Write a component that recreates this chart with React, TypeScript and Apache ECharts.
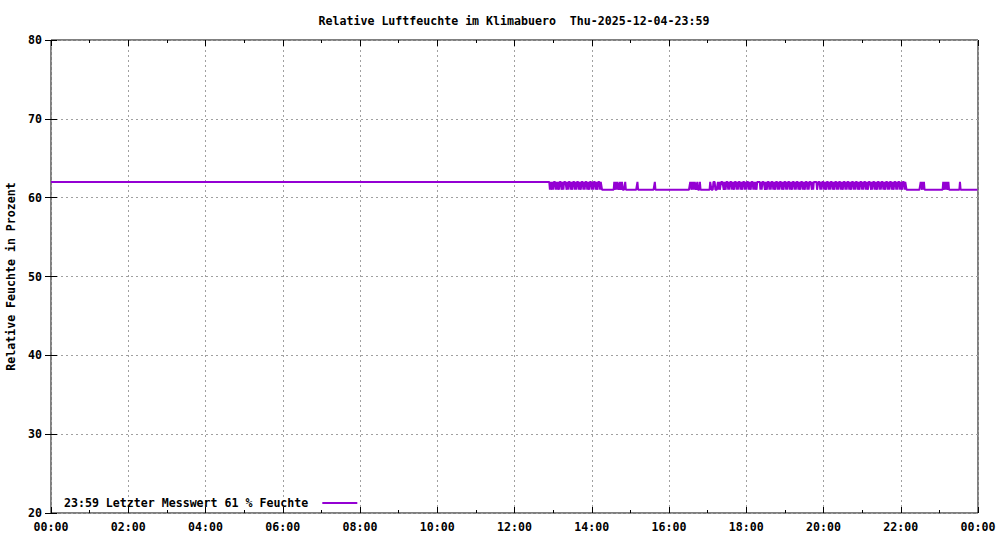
import * as echarts from "echarts"
import { useEffect, useRef } from "react"

const TITLE = "Relative Luftfeuchte im Klimabuero  Thu-2025-12-04-23:59"
const Y_NAME = "Relative Feuchte in Prozent"
const SERIES_NAME = "23:59 Letzter Messwert 61 % Feuchte"

const LAST_MINUTE = 1439
const LOW_VALUE = 61
const HIGH_VALUE = 62

// stretches (start minute, length in minutes) where the reading was 62 %
const HIGH_RUNS: [number, number][] = [
  [0, 772],
  // 12:52 - 14:17, dense toggling
  [772, 3], [776, 2], [779, 1], [781, 3], [785, 1], [787, 2], [790, 3], [795, 1], [797, 4], [802, 1],
  [804, 3], [808, 2], [811, 3], [815, 1], [817, 3], [821, 2], [824, 3], [828, 1], [830, 3], [834, 2],
  [837, 3], [841, 1], [843, 3], [847, 2], [850, 3], [854, 2],
  // 14:35 - 15:41, isolated blips
  [875, 2], [878, 1], [880, 2], [884, 1], [887, 1], [892, 1], [911, 1], [938, 1],
  // 16:33 - 17:22
  [993, 2], [996, 1], [998, 1], [1000, 2], [1004, 1], [1008, 1], [1024, 2], [1029, 3], [1036, 1], [1038, 1],
  [1041, 1],
  // 17:22 - 22:10, dense toggling
  [1042, 3], [1046, 2], [1049, 3], [1053, 1], [1055, 3], [1059, 2], [1062, 3], [1066, 1], [1068, 3], [1072, 2],
  [1075, 3], [1079, 1], [1081, 3], [1085, 2], [1088, 3], [1092, 1], [1094, 2], [1097, 5], [1103, 1], [1105, 4],
  [1110, 2], [1113, 3], [1117, 1], [1119, 3], [1123, 2], [1126, 3], [1130, 1], [1132, 3], [1136, 2], [1139, 3],
  [1143, 1], [1145, 3], [1149, 2], [1152, 3], [1156, 1], [1158, 3], [1162, 2], [1165, 3], [1169, 2], [1172, 3],
  [1176, 1], [1178, 4], [1183, 1], [1185, 5], [1192, 3], [1196, 1], [1198, 3], [1202, 2], [1205, 3], [1209, 1],
  [1211, 3], [1215, 2], [1218, 3], [1222, 1], [1224, 3], [1228, 2], [1231, 3], [1235, 1], [1237, 3], [1241, 2],
  [1244, 3], [1248, 1], [1250, 3], [1254, 2], [1257, 3], [1261, 1], [1263, 3], [1267, 2], [1270, 4], [1275, 1],
  [1277, 3], [1281, 2], [1284, 3], [1288, 1], [1290, 3], [1294, 2], [1297, 3], [1301, 1], [1303, 3], [1307, 2],
  [1310, 3], [1314, 1], [1316, 3], [1320, 2], [1323, 3], [1327, 2],
  // late blips
  [1351, 2], [1354, 1], [1356, 1], [1386, 2], [1389, 1], [1391, 2], [1394, 1], [1412, 1],
]

const FONT = "DejaVu Sans Mono"
const VIOLET = "#9400d3"

const fmtTime = (m: number) => {
  const h = Math.floor(m / 60) % 24
  return `${String(h).padStart(2, "0")}:${String(m % 60).padStart(2, "0")}`
}

export default function App() {
  const ref = useRef<HTMLDivElement>(null)

  useEffect(() => {
    if (!ref.current) return
    const chart = echarts.init(ref.current, null, { renderer: "svg" })

    const high = new Set<number>()
    for (const [s, len] of HIGH_RUNS) for (let m = s; m < s + len; m++) high.add(m)
    const data: [number, number][] = []
    for (let m = 0; m <= LAST_MINUTE; m++) data.push([m, high.has(m) ? HIGH_VALUE : LOW_VALUE])

    const text = { fontFamily: FONT, fontWeight: "bold" as const, fontSize: 11.6, color: "#000" }
    const grid = { lineStyle: { color: "#a0a0a0", width: 1, type: [2, 3] } }

    chart.setOption({
      animation: false,
      backgroundColor: "#fff",
      title: {
        text: TITLE,
        left: 509,
        top: 10,
        textAlign: "center",
        textStyle: { ...text },
      },
      grid: {
        left: 51,
        top: 40,
        width: 927,
        height: 473,
        containLabel: false,
        outerBoundsMode: "none",
        show: true,
        borderColor: "#000",
        borderWidth: 1,
        backgroundColor: "transparent",
      },
      legend: {
        left: 59,
        top: 492,
        align: "right",
        itemWidth: 35,
        itemHeight: 2,
        icon: "rect",
        textStyle: { ...text, padding: [0, 9, 0, 0] },
        data: [SERIES_NAME],
      },
      xAxis: [
        {
          type: "value",
          min: 0,
          max: 1440,
          interval: 120,
          axisLine: { show: false },
          axisTick: { show: true, inside: true, length: 6, lineStyle: { color: "#000" } },
          minorTick: { show: true, splitNumber: 2, length: 3, lineStyle: { color: "#000" } },
          axisLabel: { ...text, margin: 8, formatter: (v: number) => fmtTime(v) },
          splitLine: { show: true, ...grid },
        },
        {
          type: "value",
          position: "top",
          min: 0,
          max: 1440,
          interval: 120,
          axisLine: { show: false },
          axisTick: { show: true, inside: true, length: 6, lineStyle: { color: "#000" } },
          minorTick: { show: true, splitNumber: 2, length: 3, lineStyle: { color: "#000" } },
          axisLabel: { show: false },
          splitLine: { show: false },
        },
      ],
      yAxis: [
        {
          type: "value",
          min: 20,
          max: 80,
          interval: 10,
          name: Y_NAME,
          nameLocation: "middle",
          nameGap: 32,
          nameRotate: 90,
          nameTextStyle: { ...text },
          axisLine: { show: false },
          axisTick: { show: true, inside: true, length: 6, lineStyle: { color: "#000" } },
          axisLabel: { ...text, margin: 9 },
          splitLine: { show: true, ...grid },
        },
        {
          type: "value",
          position: "right",
          min: 20,
          max: 80,
          interval: 10,
          axisLine: { show: false },
          axisTick: { show: true, inside: true, length: 6, lineStyle: { color: "#000" } },
          axisLabel: { show: false },
          splitLine: { show: false },
        },
      ],
      series: [
        {
          name: SERIES_NAME,
          type: "line",
          data,
          symbol: "none",
          lineStyle: { color: VIOLET, width: 2 },
          itemStyle: { color: VIOLET },
        },
      ],
    })

    return () => chart.dispose()
  }, [])

  return <div ref={ref} style={{ position: "fixed", left: 0, top: 0, width: 1000, height: 540 }} />
}
